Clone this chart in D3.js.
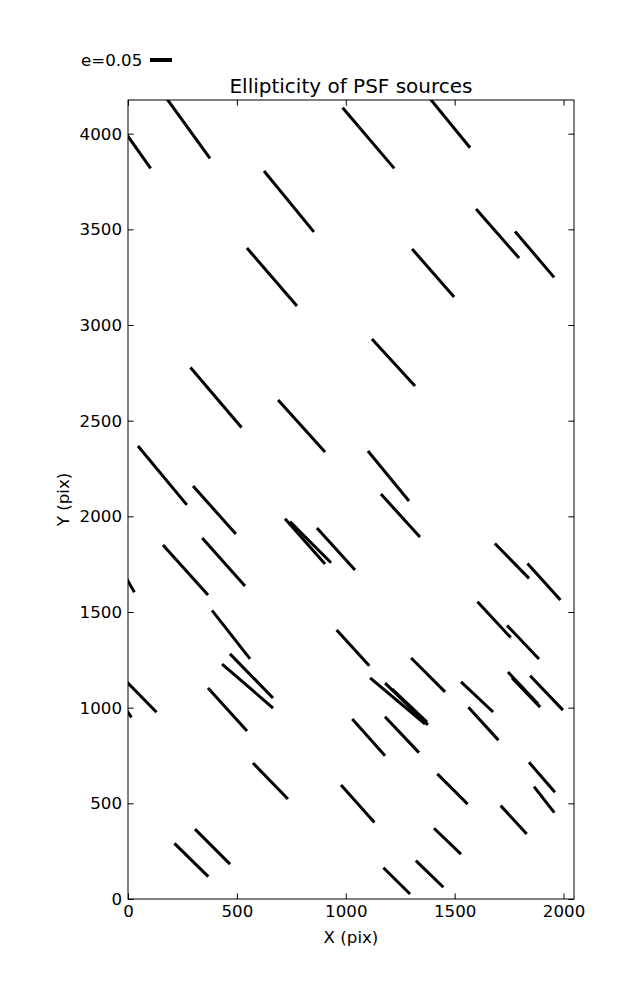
<!DOCTYPE html>
<html>
<head>
<meta charset="utf-8">
<script src="https://cdn.jsdelivr.net/npm/d3@7"></script>
<style>
  html, body { margin: 0; padding: 0; background: #fff; }
  text { font-family: "DejaVu Sans", sans-serif; fill: #000; }
</style>
</head>
<body>
<svg id="chart" width="637" height="1000"></svg>
<script>
// ---- data (source centre in pix, ellipticity e, position angle in degrees) ----
const srcX = [11, 274, 1104, 739, 1401, 661, 1475, 1697, 1867, 404,
              158, 397, 1219, 797, 1196, 1251, 264, 439, -16, 35,
              -37, 473, 567, 549, 457, 813, 838, 955, 1033, 1378,
              1238, 1279, 1293, 1763, 1910, 1681, 1814, 1603, 1814, 1828,
              1922, 654, 291, 388, 1105, 1258, 1055, 1234, 1385, 1632,
              1490, 1771, 1901, 1911, 1467];
const srcY = [3968, 4032, 3977, 3646, 3272, 3251, 4060, 3478, 3369, 2621,
              2214, 2033, 2804, 2472, 2211, 2004, 1720, 1761, 1694, 1088,
              1035, 1382, 1166, 1113, 990, 1869, 1865, 1829, 1312, 1171,
              1035, 1019, 1011, 1767, 1658, 1460, 1342, 1056, 1103, 1079,
              1077, 617, 204, 274, 845, 859, 498, 95, 131, 916,
              575, 414, 636, 519, 302];
const srcE = [0.159, 0.173, 0.181, 0.179, 0.145, 0.174, 0.150, 0.148, 0.137, 0.179,
              0.174, 0.146, 0.145, 0.159, 0.147, 0.132, 0.153, 0.146, 0.091, 0.136,
              0.091, 0.140, 0.140, 0.153, 0.132, 0.137, 0.132, 0.129, 0.110, 0.109,
              0.163, 0.136, 0.109, 0.111, 0.112, 0.111, 0.105, 0.100, 0.100, 0.092,
              0.108, 0.114, 0.108, 0.1125, 0.112, 0.1125, 0.114, 0.085, 0.087, 0.101,
              0.0975, 0.0875, 0.090, 0.075, 0.085];
const srcTheta = [-54.6, -54.1, -49.6, -50.7, -48.8, -49.2, -50.8, -48.7, -49.7, -49.6,
                  -50.3, -48.2, -47.5, -47.9, -50.6, -47.8, -48.0, -48.2, -60.6, -45.6,
                  -55.0, -51.9, -45.7, -40.8, -47.8, -48.4, -45.0, -47.9, -47.6, -45.0,
                  -39.9, -44.3, -43.3, -45.6, -48.0, -47.2, -46.4, -43.2, -46.8, -46.0,
                  -46.3, -45.8, -44.5, -45.0, -48.3, -46.6, -48.2, -44.6, -44.0, -47.5,
                  -45.0, -47.4, -49.1, -52.0, -43.9];
const xTicks = [0, 500, 1000, 1500, 2000];
const yTicks = [0, 500, 1000, 1500, 2000, 2500, 3000, 3500, 4000];
const xDomain = [0, 2048];
const yDomain = [0, 4176];
const keyE = 0.05;
const keyLabel = "e=0.05";
const titleText = "Ellipticity of PSF sources";
const xLabel = "X (pix)";
const yLabel = "Y (pix)";

// ---- layout ----
const svg = d3.select("#chart");
const m = {left: 128, top: 100, width: 446, height: 799};
const keyLen = 22; // pixel length of the key whisker
const eScale = d3.scaleLinear().domain([0, keyE]).range([0, keyLen]);
const x = d3.scaleLinear().domain(xDomain).range([m.left, m.left + m.width]);
const y = d3.scaleLinear().domain(yDomain).range([m.top + m.height, m.top]);
const tick = 5.6;
const fs = 16.67;

svg.append("defs").append("clipPath").attr("id", "clip")
  .append("rect").attr("x", m.left).attr("y", m.top)
  .attr("width", m.width).attr("height", m.height);

const data = srcX.map((d, i) => ({x: srcX[i], y: srcY[i], e: srcE[i], t: srcTheta[i]}));

svg.append("g").attr("clip-path", "url(#clip)")
  .selectAll("line").data(data).join("line")
  .attr("x1", d => x(d.x) - eScale(d.e) / 2 * Math.cos(d.t * Math.PI / 180))
  .attr("y1", d => y(d.y) + eScale(d.e) / 2 * Math.sin(d.t * Math.PI / 180))
  .attr("x2", d => x(d.x) + eScale(d.e) / 2 * Math.cos(d.t * Math.PI / 180))
  .attr("y2", d => y(d.y) - eScale(d.e) / 2 * Math.sin(d.t * Math.PI / 180))
  .attr("stroke", "#000").attr("stroke-width", 3).attr("stroke-linecap", "butt");

// axes
function styleAxis(g) {
  g.select(".domain").remove();
  g.selectAll(".tick line").attr("stroke", "#000").attr("stroke-width", 1);
  g.selectAll(".tick text").attr("font-size", fs).attr("font-family", "DejaVu Sans, sans-serif").attr("fill", "#000");
}
svg.append("g").attr("transform", `translate(0,${m.top + m.height})`)
  .call(d3.axisBottom(x).tickValues(xTicks).tickSizeInner(-tick).tickSizeOuter(0).tickPadding(6).tickFormat(d3.format("d")))
  .call(styleAxis);
svg.append("g").attr("transform", `translate(0,${m.top})`)
  .call(d3.axisTop(x).tickValues(xTicks).tickSizeInner(-tick).tickSizeOuter(0).tickFormat(""))
  .call(styleAxis);
svg.append("g").attr("transform", `translate(${m.left},0)`)
  .call(d3.axisLeft(y).tickValues(yTicks).tickSizeInner(-tick).tickSizeOuter(0).tickPadding(6).tickFormat(d3.format("d")))
  .call(styleAxis);
svg.append("g").attr("transform", `translate(${m.left + m.width},0)`)
  .call(d3.axisRight(y).tickValues(yTicks).tickSizeInner(-tick).tickSizeOuter(0).tickFormat(""))
  .call(styleAxis);

svg.append("rect").attr("x", m.left).attr("y", m.top)
  .attr("width", m.width).attr("height", m.height)
  .attr("fill", "none").attr("stroke", "#000").attr("stroke-width", 1);

// labels
svg.append("text").attr("x", m.left + m.width / 2).attr("y", 943)
  .attr("text-anchor", "middle").attr("font-size", fs).text(xLabel);
svg.append("text").attr("transform", `translate(69,${m.top + m.height / 2}) rotate(-90)`)
  .attr("text-anchor", "middle").attr("font-size", fs).text(yLabel);
svg.append("text").attr("x", m.left + m.width / 2).attr("y", 93)
  .attr("text-anchor", "middle").attr("font-size", 20).text(titleText);

// key
svg.append("text").attr("x", 81).attr("y", 66).attr("font-size", fs).text(keyLabel);
svg.append("line").attr("x1", 150).attr("x2", 150 + eScale(keyE))
  .attr("y1", 60).attr("y2", 60).attr("stroke", "#000").attr("stroke-width", 4);
</script>
</body>
</html>
